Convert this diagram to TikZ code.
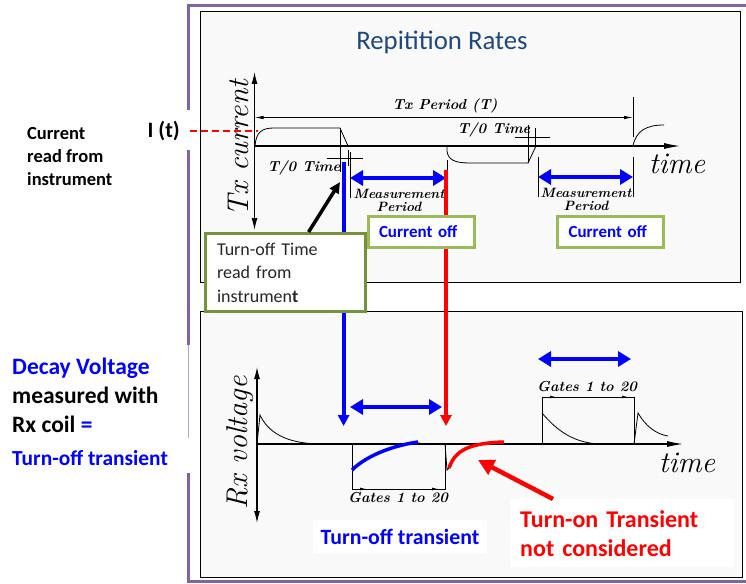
\documentclass[tikz,border=0pt]{standalone}
\usepackage{fontspec}
\newfontfamily\slidefont{Carlito}
\usetikzlibrary{arrows.meta}

\definecolor{framepurple}{RGB}{128,100,162}
\definecolor{titleblue}{RGB}{31,73,125}
\definecolor{olivegreen}{RGB}{118,146,60}
\definecolor{lightgreen}{RGB}{155,187,89}
\definecolor{scangray}{RGB}{249,249,249}

\begin{document}
\begin{tikzpicture}[x=1pt, y=-1pt, >=latex,
  scan/.style={line width=0.8pt},
  axis/.style={line width=1.1pt},
  scanlbl/.style={font=\fontsize{14.5}{13}\selectfont\bfseries\itshape, inner sep=1pt},
  biglbl/.style={font=\fontsize{30}{32}\selectfont\itshape, inner sep=0pt},
  bluedbl/.style={blue, line width=4.5pt, {Triangle[length=13pt,width=15pt]}-{Triangle[length=13pt,width=15pt]}},
  bluedown/.style={blue, line width=4pt, -{Triangle[length=11pt,width=11pt]}},
  reddown/.style={red, line width=4pt, -{Triangle[length=11pt,width=11pt]}},
  offbox/.style={draw=lightgreen, line width=3pt, fill=white, anchor=north west, text width=84pt, inner xsep=11pt, minimum height=31, align=left, text=blue, font=\slidefont\fontsize{17}{18}\selectfont\bfseries}
]

% Parameters
\def\yT{146}
\def\yR{444}

\useasboundingbox (0,0) rectangle (746,583);
\fill[white] (0,0) rectangle (746,583);

% Scanned panels
\draw[scan, fill=scangray] (200,11) rectangle (740,282);
\draw[scan, fill=scangray] (200,311) rectangle (742,577);

% Slide frame
\draw[framepurple, line width=3pt] (188,110) -- (188,6) -- (746,6);
\draw[framepurple, line width=3pt] (188,150) -- (188,345);
\draw[framepurple!60, line width=1pt] (188,345) -- (188,438);
\draw[framepurple, line width=3pt] (188,473) -- (188,581) -- (746,581);

% Title
\node[font=\slidefont\fontsize{26.8}{30}\selectfont, text=titleblue] (title) at (442,42) {Repitition Rates};

% Tx axes
\draw[axis, {Latex[length=12pt,width=6pt]}-{Latex[length=12pt,width=6pt]}] (254.5,72) -- (254.5,230);
\draw[axis, -{Latex[length=16pt,width=6pt]}] (254.5,\yT) -- (680,\yT);
\node[biglbl, rotate=90] (txlbl) at (238,148) {Tx current};
\node[biglbl] (timetop) at (677,164) {time};

% Tx period
\draw[scan, {Latex[length=9pt,width=3.5pt]}-{Latex[length=9pt,width=3.5pt]}] (254.5,117.5) -- (633,117.5);
\draw[scan] (633,97) -- (633,137);
\node[scanlbl] (period) at (445,106) {Tx Period (T)};

% Current waveform
\draw[scan] (255,\yT) .. controls (256,132) and (262,128) .. (274,128) -- (340,128) -- (348,\yT);
\draw[scan] (447,\yT) -- (447,151) .. controls (448,160) and (455,163) .. (470,163) -- (528,163) -- (536,\yT);
\draw[scan] (633,\yT) .. controls (636,131) and (646,125) .. (664,125);

% T/0 markers
\draw[scan] (340,128) -- (340,172);
\draw[scan] (348,150) -- (348,166);
\draw[scan] (327,158) -- (363,158);
\node[scanlbl] (tzero1) at (304,168) {T/0 Time};
\draw[scan] (528,125) -- (528,163);
\draw[scan] (535,128) -- (535,\yT);
\draw[scan] (515,137) -- (550,137);
\node[scanlbl] (tzero2) at (494,130) {T/0 Time};

% Measurement periods
\draw[scan] (350,152) -- (350,198);
\draw[scan] (447,160) -- (447,198);
\draw[scan] (538,157) -- (538,197);
\draw[scan] (633,157) -- (633,197);
\node[scanlbl, font=\fontsize{13.5}{13}\selectfont\bfseries\itshape, align=center] (meas1) at (399,200) {Measurement\\Period};
\node[scanlbl, font=\fontsize{13.5}{13}\selectfont\bfseries\itshape, align=center] (meas2) at (586,199) {Measurement\\Period};
\draw[bluedbl] (350,178) -- (446,178);
\draw[bluedbl] (538,177) -- (633,177);

% Rx axes
\draw[axis, {Latex[length=12pt,width=6pt]}-{Latex[length=12pt,width=6pt]}] (257,367) -- (257,523);
\draw[axis, -{Latex[length=16pt,width=6pt]}] (257,\yR) -- (683,\yR);
\node[biglbl, rotate=90] (rxlbl) at (240,443) {Rx voltage};
\node[biglbl] (timebot) at (687,463) {time};

% Rx waveform
\draw[scan] (257,\yR) -- (260,415) .. controls (268,432) and (285,443) .. (318,\yR);
\draw[scan] (352,\yR) -- (352,489) -- (445,489) -- (445,\yR);
\draw[scan, -{Latex[length=6pt,width=3pt]}] (352,489) -- (366,489);
\draw[scan, -{Latex[length=6pt,width=3pt]}] (425,489) -- (438,489);
\draw[scan] (352,470) .. controls (370,455) and (390,444) .. (420,443);
\draw[scan] (445,\yR) -- (447,470) -- (451,466);
\draw[scan] (542,\yR) -- (542,397) -- (634,397) -- (634,\yR);
\draw[scan, -{Latex[length=6pt,width=3pt]}] (542,397) -- (556,397);
\draw[scan, -{Latex[length=6pt,width=3pt]}] (614,397) -- (628,397);
\draw[scan] (542,413) .. controls (558,432) and (575,443) .. (600,\yR);
\draw[scan] (634,\yR) -- (638,413) .. controls (645,425) and (655,434) .. (668,436);
\node[scanlbl] (gates1) at (398,498) {Gates 1 to 20};
\node[scanlbl] (gates2) at (587,387) {Gates 1 to 20};

% Transients
\draw[blue, line width=3.5pt] (352,470) .. controls (365,457) and (390,446) .. (418,442);
\draw[red, line width=3.5pt] (449,468) .. controls (455,450) and (470,443) .. (504,442);
\draw[bluedbl] (350,407) -- (442,407);
\draw[bluedbl] (538,359) -- (631,359);

% Turn-off / turn-on lines
\coordinate (offtop) at (343.6,162);
\coordinate (offtip) at (343.6,426);
\coordinate (ontop) at (446,170);
\coordinate (ontip) at (446,426);
\draw[bluedown] (offtop) -- (offtip);
\draw[reddown] (ontop) -- (ontip);

% Boxes
\node[offbox] (curoff1) at (366.5,215) {Current off};
\node[offbox] (curoff2) at (556,215) {Current off};
\node[draw=olivegreen, line width=3pt, fill=white, anchor=north west, text width=136pt, inner xsep=12pt, minimum height=78, align=left, text=black!85, font=\slidefont\fontsize{18}{23.5}\selectfont] (toffbox) at (203.6,232) {Turn-off Time\\read from\\instrumen\textbf{t}};
\coordinate (toffpt) at (340,182);
\draw[line width=3.5pt, -{Triangle[length=11pt,width=10pt]}] ([xshift=105pt]toffbox.north west) -- (toffpt);

% Bottom texts
\node[fill=white, inner xsep=8pt, inner ysep=9pt, text=blue, font=\slidefont\fontsize{21.8}{24}\selectfont\bfseries] (offtrans) at (400,537) {Turn-off transient};
\node[fill=white, anchor=north west, text width=205pt, inner xsep=9pt, minimum height=68, align=left, text=red, font=\slidefont\fontsize{24}{29}\selectfont\bfseries] (ontrans) at (511,499) {Turn-on Transient\\not considered};
\coordinate (onpt) at (478,460);
\draw[red, line width=4.5pt, -{Triangle[length=16pt,width=16pt]}] ([xshift=42pt]ontrans.north west) -- (onpt);

% Left texts
\node[anchor=west, align=left, inner sep=0pt, font=\slidefont\fontsize{18.5}{23}\selectfont\bfseries] (curread) at (27,157) {Current\\read from\\instrument};
\node[anchor=east, inner sep=0pt, font=\slidefont\fontsize{22}{24}\selectfont\bfseries] (ioft) at (180,131) {I (t)};
\coordinate (itend) at (258,131);
\draw[red, line width=1.6pt, dash pattern=on 7pt off 4pt] ([xshift=10pt]ioft.east) -- (itend);
\node[anchor=west, align=left, inner sep=0pt, font=\slidefont\fontsize{23.5}{29}\selectfont\bfseries] (decay) at (12,395) {\textcolor{blue}{Decay Voltage}\\measured with\\Rx coil \textcolor{blue}{=}};
\node[anchor=west, inner sep=0pt, text=blue, font=\slidefont\fontsize{21.4}{24}\selectfont\bfseries] (decaytr) at (12,458) {Turn-off transient};

\end{tikzpicture}
\end{document}
